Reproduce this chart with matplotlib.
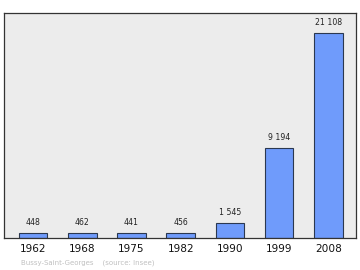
import matplotlib
matplotlib.use("Agg")
import matplotlib.pyplot as plt

years = ["1962", "1968", "1975", "1982", "1990", "1999", "2008"]
population = [448, 462, 441, 456, 1545, 9194, 21108]
value_labels = ["448", "462", "441", "456", "1 545", "9 194", "21 108"]
footer = "Bussy-Saint-Georges    (source: Insee)"


def main() -> None:
    fig = plt.figure(figsize=(3.6, 2.7), dpi=100)
    ax = fig.add_axes([4 / 360, 1 - 237.5 / 270, 352 / 360, 225 / 270])
    ax.set_facecolor("#ececec")

    x = range(len(years))
    bars = ax.bar(x, population, width=0.58, color="#6f9bfb",
                  edgecolor="#2b3850", linewidth=0.8, zorder=2)

    for rect, label in zip(bars, value_labels):
        ax.annotate(label, (rect.get_x() + rect.get_width() / 2, rect.get_height()),
                    xytext=(0, 7.5), textcoords="offset points",
                    ha="center", va="center", fontsize=5.6, color="#222222")

    ax.set_xlim(-0.59, 6.56)
    ax.set_ylim(0, max(population) * 1.1)
    ax.set_yticks([])
    ax.set_xticks(list(x))
    ax.set_xticklabels(years, fontsize=7.6, color="#111111")
    ax.tick_params(axis="x", length=0, pad=5)
    for s in ax.spines.values():
        s.set_color("#333333")
        s.set_linewidth(0.9)

    fig.text(21 / 360, 1 - 263 / 270, footer, fontsize=5, color="#c0c0c0",
             va="center", ha="left")

    fig.savefig("out.png", dpi=100)
    plt.close(fig)


if __name__ == "__main__":
    main()
